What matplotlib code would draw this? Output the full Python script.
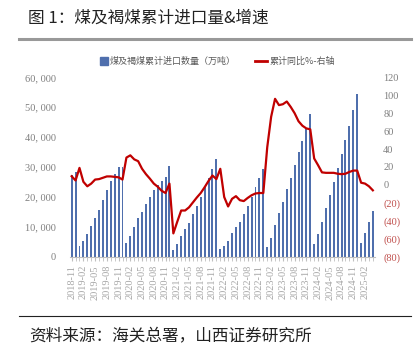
import matplotlib
matplotlib.use('Agg')
import matplotlib.pyplot as plt
import pandas as pd
from matplotlib.ticker import FuncFormatter, FixedLocator
from matplotlib.patches import Rectangle
from matplotlib.lines import Line2D

months = [p.strftime('%Y-%m') for p in pd.period_range('2018-11', '2025-04', freq='M')]

import_cum = [
    27300, 28200,
    3700, 5350, 7600, 10250, 13050, 15600, 18950, 22300, 25300, 27650, 29900, 29900,
    4700, 7000, 9800, 12850, 15050, 17500, 20050, 22300, 24000, 25400, 26550, 30450,
    2250, 4250, 7000, 9150, 11350, 14200, 17050, 20050, 23200, 26200, 29200, 32550,
    2450, 3700, 5350, 7800, 9800, 11700, 14150, 16950, 20050, 23200, 26400, 29300,
    3350, 6350, 10600, 14500, 18400, 22550, 26400, 30650, 34900, 38700, 42950, 47600,
    4250, 7600, 11700, 16400, 20650, 25100, 29750, 34350, 39000, 43700, 49050, 54300,
    4500, 7800, 11700, 15400,
]

yoy = [
    9.7, 5,
    19, 3.5, -1.5, 1.5, 6, 6.5, 8, 9.5, 9.5, 9, 8.5, 6,
    30.5, 33, 28.5, 26.5, 18, 12, 7, 1.5, -2, -6.5, -9, 1.5,
    -54, -41, -28.5, -28.5, -25, -19.5, -14, -9, -2.5, 4.5, 10.5, 6.5,
    18, -13.5, -24, -15.5, -12.5, -17, -18, -14.5, -11.5, -9.5, -9, -9,
    42, 76, 96, 89, 90, 93, 87, 80, 71, 66, 63, 62,
    29.5, 22, 14, 13.5, 13.5, 13.5, 12.5, 12, 12.5, 14.5, 16, 16,
    2.5, 1.5, -1.5, -6,
]

bar_label = '煤及褐煤累计进口数量（万吨）'
line_label = '累计同比%-右轴'
title = '图 1：煤及褐煤累计进口量&增速'
source = '资料来源：海关总署，山西证券研究所'

CJK = ['Noto Sans CJK SC', 'DejaVu Sans']
SERIF = 'Liberation Serif'
GRAY = '#7f7f7f'
BAR_C = '#4f6fad'
LINE_C = '#c00000'
NEG_C = '#c0504d'

W, H = 418, 359
fig = plt.figure(figsize=(W / 100, H / 100), dpi=100)

ax = fig.add_axes([69.7 / W, 1 - 256.7 / H, 305.1 / W, 179.4 / H])
x = list(range(len(months)))
ax.bar(x, import_cum, width=0.5, color=BAR_C, zorder=2)
ax.set_xlim(-0.5, len(months) - 0.5)
ax.set_ylim(0, 60000)
ax.set_yticks(range(0, 60001, 10000))
ax.yaxis.set_major_formatter(FuncFormatter(lambda v, p: f'{int(v):,}'.replace(',', ', ')))
for s in ['top', 'right', 'left']:
    ax.spines[s].set_visible(False)
ax.spines['bottom'].set_color('#bfbfbf')
ax.spines['bottom'].set_linewidth(0.8)
ax.tick_params(axis='y', length=0, pad=10, labelsize=7.5, labelcolor=GRAY)
ax.set_xticks(x, minor=True)
ax.set_xticks(x[::3])
ax.set_xticklabels(months[::3], rotation=90, fontsize=7.5, color='#a6a6a6', fontfamily=SERIF)
ax.tick_params(axis='x', which='both', length=3, color='#bfbfbf', pad=3)
for lab in ax.get_yticklabels():
    lab.set_fontfamily(SERIF)

ax2 = ax.twinx()
ax2.plot(x, yoy, color=LINE_C, lw=1.6, zorder=3)
ax2.set_ylim(-80, 120)
ax2.set_yticks(range(-80, 121, 20))
ax2.yaxis.set_major_formatter(FuncFormatter(lambda v, p: f'({abs(int(v))})' if v < 0 else f'{int(v)}'))
for s in ['top', 'right', 'left', 'bottom']:
    ax2.spines[s].set_visible(False)
ax2.tick_params(axis='y', length=0, pad=6, labelsize=7.5)
for lab, v in zip(ax2.get_yticklabels(), range(-80, 121, 20)):
    lab.set_fontfamily(SERIF)
    lab.set_color(NEG_C if v < 0 else GRAY)

# legend
fig.patches.append(Rectangle((100 / W, 1 - 64.5 / H), 8 / W, 7 / H, transform=fig.transFigure,
                             color=BAR_C, figure=fig))
fig.text(110 / W, 1 - 61 / H, bar_label, fontsize=6.5, color='#595959', family=CJK, va='center')
fig.lines.append(Line2D([255 / W, 267 / W], [1 - 61 / H, 1 - 61 / H], transform=fig.transFigure,
                        color=LINE_C, lw=2, figure=fig))
fig.text(270 / W, 1 - 61 / H, line_label, fontsize=6.5, color='#595959', family=CJK, va='center')

# title and source
fig.text(28 / W, 1 - 18.5 / H, title, fontsize=12, family=CJK, va='center', color='#222222')
fig.lines.append(Line2D([19 / W, 411 / W], [1 - 38.5 / H, 1 - 38.5 / H], transform=fig.transFigure,
                        color='#999999', lw=2.2, figure=fig))
fig.lines.append(Line2D([19 / W, 411 / W], [1 - 316 / H, 1 - 316 / H], transform=fig.transFigure,
                        color='#222222', lw=0.8, figure=fig))
fig.text(29 / W, 1 - 336.5 / H, source, fontsize=12, family=CJK, va='center', color='#222222')

fig.savefig('out.png', dpi=100)
